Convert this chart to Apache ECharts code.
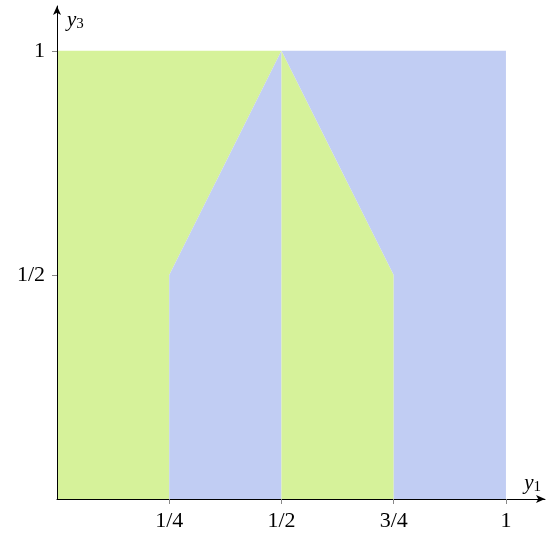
<!DOCTYPE html>
<html><head><meta charset="utf-8">
<script src="https://cdn.jsdelivr.net/npm/echarts@6/dist/echarts.min.js"></script>
<style>html,body{margin:0;padding:0;background:#fff}#c{width:547px;height:535px}</style>
</head><body><div id="c"></div>
<script>
const xTicks = [0.25, 0.5, 0.75, 1];
const xTickLabels = ['1/4', '1/2', '3/4', '1'];
const yTicks = [0.5, 1];
const yTickLabels = ['1/2', '1'];
const greenLeft = [[0,0],[0.25,0],[0.25,0.5],[0.5,1],[0,1]];
const blueLeft = [[0.25,0],[0.5,0],[0.5,1],[0.25,0.5]];
const greenRight = [[0.5,0],[0.75,0],[0.75,0.5],[0.5,1]];
const blueRight = [[0.75,0],[1,0],[1,1],[0.5,1],[0.75,0.5]];
const regions = [
  {pts: greenLeft, color: '#d6f29a'},
  {pts: blueLeft, color: '#c1cdf3'},
  {pts: greenRight, color: '#d6f29a'},
  {pts: blueRight, color: '#c1cdf3'}
];
const font = '"Liberation Serif","DejaVu Serif",serif';
const labelMap = (vals, labs) => v => { const i = vals.findIndex(t => Math.abs(t - v) < 1e-9); return i >= 0 ? labs[i] : ''; };
const chart = echarts.init(document.getElementById('c'));
const xBase = {type:'value', min:0, max:1.087, splitLine:{show:false}};
const yBase = {type:'value', min:0, max:1.1, splitLine:{show:false}};
const nameRich = {i:{fontFamily:font, fontStyle:'italic', fontSize:21, color:'#000'}, s:{fontFamily:font, fontSize:15, color:'#000', verticalAlign:'bottom', padding:[9,0,0,0]}};
chart.setOption({
  animation:false,
  grid:{left:57, right:2, top:6, bottom:36},
  xAxis:[Object.assign({}, xBase, {
    z:5,
    axisLine:{show:true, lineStyle:{color:'#000', width:1}, symbol:['none','arrow'], symbolSize:[6,9]},
    axisTick:{show:true, customValues:xTicks, length:5, lineStyle:{color:'#888'}},
    axisLabel:{show:true, customValues:xTicks, formatter:labelMap(xTicks, xTickLabels), margin:11, fontFamily:font, fontSize:22, color:'#000'},
    name:'{i|y}{s|1}', nameLocation:'end', nameGap:-4,
    nameTextStyle:{align:'right', verticalAlign:'bottom', padding:[0,0,4,0], rich:nameRich}
  }), Object.assign({}, xBase, {
    z:5, axisLine:{show:false}, axisLabel:{show:false},
    axisTick:{show:true, inside:true, customValues:xTicks, length:5, lineStyle:{color:'#888'}}
  })],
  yAxis:[Object.assign({}, yBase, {
    z:5,
    axisLine:{show:true, lineStyle:{color:'#000', width:1}, symbol:['none','arrow'], symbolSize:[6,9]},
    axisTick:{show:true, customValues:yTicks, length:5, lineStyle:{color:'#888'}},
    axisLabel:{show:true, customValues:yTicks, formatter:labelMap(yTicks, yTickLabels), margin:12, fontFamily:font, fontSize:22, color:'#000'},
    name:'{i|y}{s|3}', nameLocation:'end', nameGap:-2,
    nameTextStyle:{align:'left', verticalAlign:'top', padding:[0,0,0,10], rich:nameRich}
  }), Object.assign({}, yBase, {
    z:5, axisLine:{show:false}, axisLabel:{show:false},
    axisTick:{show:true, inside:true, customValues:yTicks, length:5, lineStyle:{color:'#888'}}
  })],
  series:[{
    type:'custom', z:1, silent:true, xAxisIndex:0, yAxisIndex:0,
    data: regions.map((r, i) => [i]),
    renderItem: (params, api) => {
      const r = regions[api.value(0)];
      return {type:'polygon', shape:{points: r.pts.map(p => api.coord(p))}, style:{fill:r.color, stroke:null}};
    }
  }]
});
</script></body></html>
